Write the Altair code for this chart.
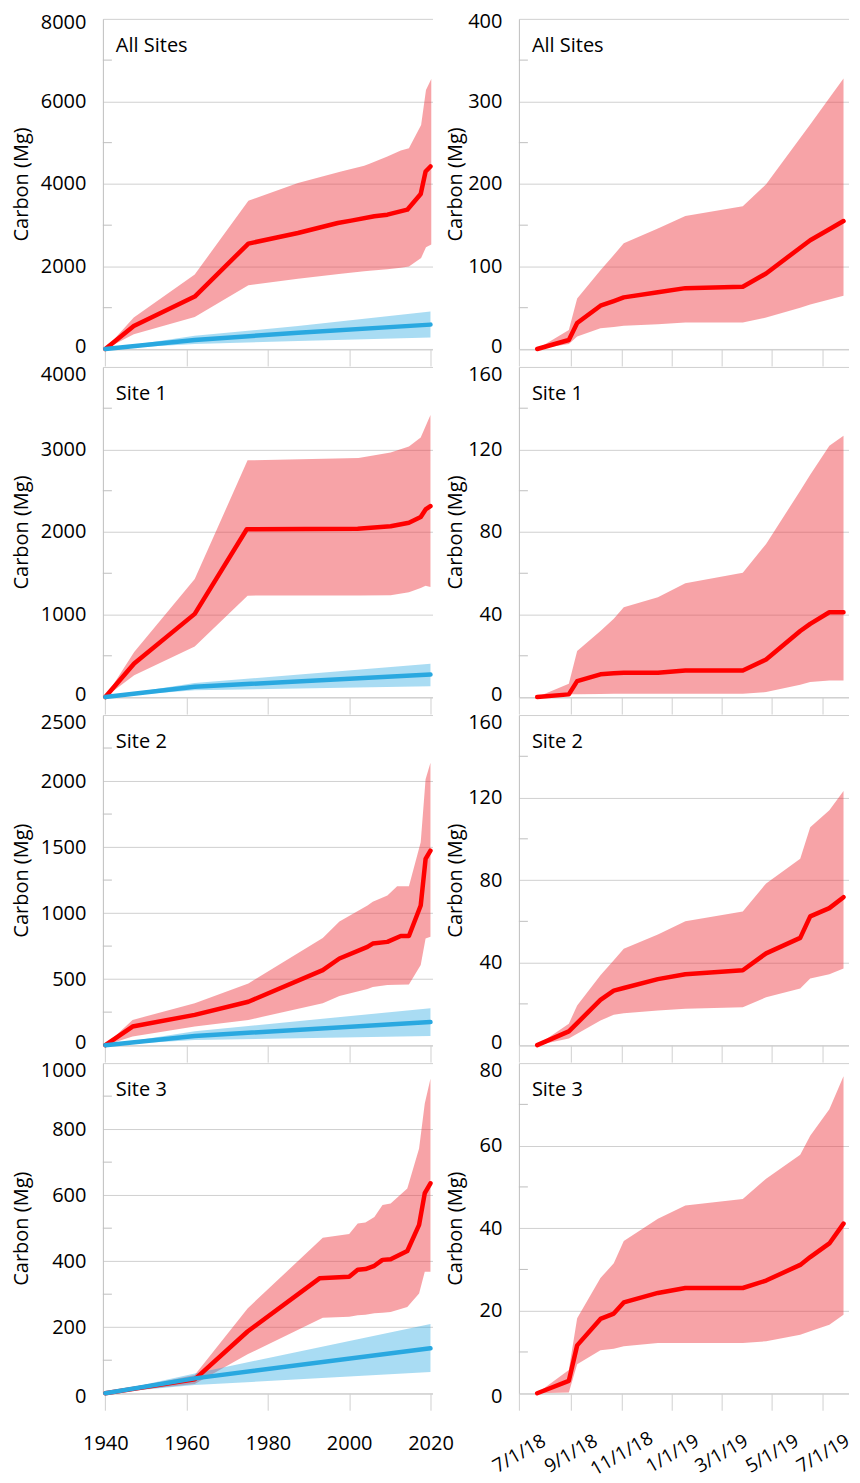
import altair as alt
import pandas as pd

# ---------------- Left column (years) ----------------
YEAR_TICKS = [1940, 1960, 1980, 2000, 2020]

# All Sites
AS_RED_X = [1940, 1947, 1962, 1975.2, 1987.4, 1997.2, 2000.5, 2006.2, 2009.4, 2014.3, 2017.6, 2018.8, 2020]
AS_RED = [0, 556, 1270, 2554, 2811, 3053, 3110, 3215, 3255, 3376, 3754, 4302, 4423]
AS_BAND_X = [1940, 1947, 1962, 1975.2, 1987.4, 1998, 2003.7, 2005, 2009.4, 2012.7, 2014.7, 2017.7, 2018.9, 2020.2]
AS_RED_HI = [0, 760, 1805, 3594, 4020, 4302, 4440, 4488, 4665, 4810, 4866, 5430, 6276, 6543]
AS_RED_LO = [0, 355, 773, 1547, 1700, 1820, 1885, 1895, 1930, 1970, 2000, 2207, 2465, 2530]
AS_BLUE_X = [1940, 1962, 1987.4, 2020]
AS_BLUE = [0, 215, 395, 590]
AS_BLUE_HI = [0, 320, 556, 905]
AS_BLUE_LO = [0, 120, 195, 280]

# Site 1
S1_RED_X = [1940, 1947.1, 1962, 1974.8, 2002.1, 2010.2, 2014.7, 2017.6, 2018.8, 2020]
S1_RED = [0, 406, 1008, 2033, 2040, 2069, 2113, 2181, 2273, 2314]
S1_BAND_X = [1940, 1947.1, 1962, 1975, 2002.3, 2010.2, 2014.7, 2017.6, 2018.8, 2020]
S1_RED_HI = [0, 546, 1430, 2868, 2896, 2964, 3037, 3145, 3280, 3419]
S1_RED_LO = [0, 265, 614, 1229, 1232, 1234, 1269, 1322, 1350, 1335]
S1_BLUE_X = [1940, 1962, 2020]
S1_BLUE = [0, 125, 272]
S1_BLUE_HI = [0, 170, 405]
S1_BLUE_LO = [0, 82, 130]

# Site 2
S2_RED_X = [1940, 1946.7, 1962, 1975.2, 1993.5, 1997.6, 2004.5, 2005.8, 2009.4, 2012.7, 2014.7, 2017.6, 2018.8, 2020]
S2_RED = [0, 141, 229, 329, 568, 656, 744, 769, 782, 827, 827, 1058, 1410, 1473]
S2_BAND_X = [1940, 1946.7, 1962, 1975.2, 1993.5, 1997.6, 2004.5, 2005.8, 2009.4, 2011.8, 2014.7, 2017.6, 2018.8, 2020]
S2_RED_HI = [0, 191, 317, 467, 812, 937, 1058, 1086, 1133, 1204, 1204, 1536, 2013, 2139]
S2_RED_LO = [0, 65, 141, 191, 317, 372, 425, 440, 455, 458, 460, 606, 807, 820]
S2_BLUE_X = [1940, 1962, 2020]
S2_BLUE = [0, 70, 175]
S2_BLUE_HI = [0, 105, 280]
S2_BLUE_LO = [0, 38, 70]

# Site 3
S3_RED_X = [1940, 1962, 1975, 1992.7, 2000, 2002.1, 2004, 2006.2, 2008.2, 2010.2, 2014.3, 2017.2, 2018.6, 2020]
S3_RED = [0, 42, 187, 348, 353, 374, 376, 386, 404, 406, 431, 510, 606, 636]
S3_BAND_X = [1940, 1962, 1975, 1993.5, 2000, 2002.1, 2004, 2006.2, 2008.2, 2010.2, 2014.3, 2017.2, 2018.6, 2020]
S3_RED_HI = [0, 55, 257, 471, 482, 514, 517, 534, 570, 575, 620, 741, 878, 953]
S3_RED_LO = [0, 28, 118, 229, 232, 236, 238, 242, 244, 246, 261, 302, 368, 368]
S3_BLUE_X = [1940, 1962, 2020]
S3_BLUE = [0, 45, 136]
S3_BLUE_HI = [0, 60, 210]
S3_BLUE_LO = [0, 25, 64]

# ---------------- Right column (dates) ----------------
R_DATES = ["2018-07-23", "2018-08-30", "2018-09-09", "2018-10-07", "2018-10-23", "2018-11-04",
           "2018-12-15", "2019-01-17", "2019-03-27", "2019-04-24", "2019-06-04", "2019-06-16",
           "2019-07-09", "2019-07-26"]
ASR_MED = [0, 10.9, 31.4, 52.4, 58, 62.5, 68.7, 73.7, 75.4, 91.5, 122.7, 131.8, 145, 155]
ASR_HI = [0, 23, 61, 95.5, 114, 128, 146, 161, 173, 199.5, 255.6, 272, 304, 327.6]
ASR_LO = [0, 6, 15, 25, 26.5, 28, 30, 32, 32, 38, 50, 54, 60, 64.5]
S1R_MED = [0, 1.3, 7.7, 11, 11.5, 11.8, 11.8, 12.9, 12.9, 18.2, 32, 35.5, 41.1, 41.1]
S1R_HI = [0, 6.5, 22.3, 32, 37.9, 43.5, 48.4, 55.2, 60.2, 74.2, 100, 107.8, 121.8, 126.6]
S1R_LO = [0, 1.3, 1.3, 1.5, 1.6, 1.6, 1.6, 1.6, 1.6, 2.4, 6, 7.3, 8, 8]
S2R_MED = [0, 6.7, 10.7, 21.9, 26.4, 27.7, 32, 34.4, 36.3, 44.5, 52, 62.4, 66.4, 71.7]
S2R_HI = [0, 10.4, 19.2, 33.9, 41.2, 46.7, 53.6, 60, 64.8, 78.4, 90.4, 105.6, 113.9, 123.2]
S2R_LO = [0, 3.2, 5.5, 12, 14.7, 15.5, 16.8, 17.6, 18.4, 23.2, 27.5, 32.3, 34.4, 37.1]
S3R_MED = [0, 3, 11.6, 18, 19.3, 22, 24.3, 25.5, 25.5, 27.3, 31.1, 33, 36.3, 41.1]
S3R_HI = [0, 5.6, 18.2, 27.9, 31.5, 36.9, 42.3, 45.5, 47.1, 52, 57.8, 62.4, 68.8, 76.8]
S3R_LO = [0, 0.2, 7, 10.4, 10.8, 11.4, 12.2, 12.2, 12.2, 12.6, 14.2, 15, 16.6, 19]

DATE_TICKS = [(2018, 7), (2018, 9), (2018, 11), (2019, 1), (2019, 3), (2019, 5), (2019, 7)]

# ---------------- style ----------------
FONT = "Open Sans"
RED = "#FF0000"
RED_BAND = "#EE3B45"
BLUE = "#29A8E0"
GRID = "#D0D0D0"
AXIS_C = "#BFBFBF"
W, H = 330, 330.5


def local(d):
    return d + "T00:00:00"


XAX = dict(title=None, grid=False, domain=True, domainColor=GRID, domainWidth=1,
           ticks=True, tickSize=17, tickColor=GRID, tickWidth=1,
           labelFont=FONT, labelColor="black",
           labelBaseline="middle", labelFlush=False, labelOverlap=False)
YAX = dict(title="Carbon (Mg)", titleFont=FONT, titleFontSize=20, titleFontWeight="normal",
           titleColor="black", titleAngle=270, titleBaseline="bottom", titleAlign="center",
           grid=True, gridColor=GRID, gridWidth=1, domain=True, domainColor=AXIS_C, domainWidth=1,
           ticks=False, tickSize=0, labelPadding=17, labelFont=FONT, labelFontSize=20,
           labelColor="black", labelFlush=False, labelOverlap=False, labelBaseline="middle",
           format="d")


def panel(row, label, kind, ymax, major, minor,
          red_x, red_y, band_x, band_hi, band_lo,
          blue_x=None, blue_y=None, blue_hi=None, blue_lo=None):
    bottom = row == 3
    if kind == "year":
        xtype = "quantitative"
        xscale = alt.Scale(domain=[1939.4, 2020.5], nice=False, zero=False)
        xaxis = alt.Axis(values=YEAR_TICKS, format="d", labels=bottom, labelPadding=33,
                         labelFontSize=20, labelAngle=0, labelAlign="center", **XAX)
        tx = -71
        conv = lambda v: v
        first_off = 3.5
    else:
        xtype = "temporal"
        xscale = alt.Scale(domain=[alt.DateTime(year=2018, month=7, date=1),
                                   alt.DateTime(year=2019, month=8, date=1)], nice=False)
        xaxis = alt.Axis(values=[alt.DateTime(year=y, month=m, date=1) for y, m in DATE_TICKS],
                         format="%-m/%-d/%y", formatType="time", labels=bottom, labelPadding=43,
                         labelFontSize=19, labelAngle=330, labelAlign="center", **XAX)
        tx = -53
        conv = local
        first_off = 2.5
    top_off = first_off if row == 0 else 7.5
    zero_off = 3 if row == 3 else -2.5
    label_offset = {"condition": [{"test": f"datum.value == {ymax}", "value": top_off},
                                  {"test": "datum.value == 0", "value": zero_off}],
                    "value": 0}
    yscale = alt.Scale(domain=[0, ymax], nice=False, zero=True)
    yaxis = alt.Axis(values=major, titleX=tx, titleY=H / 2, labelOffset=label_offset, **YAX)

    def X(f):
        return alt.X(field=f, type=xtype, scale=xscale, axis=xaxis)

    def Y(f):
        return alt.Y(field=f, type="quantitative", scale=yscale, axis=yaxis)

    band_df = pd.DataFrame({"x": [conv(v) for v in band_x], "hi": band_hi, "lo": band_lo})
    red_df = pd.DataFrame({"x": [conv(v) for v in red_x], "v": red_y})
    layers = [alt.Chart(band_df).mark_area(color=RED_BAND, opacity=0.47).encode(
        x=X("x"), y=Y("hi"), y2=alt.Y2("lo"))]
    if blue_x is not None:
        bb_df = pd.DataFrame({"x": blue_x, "hi": blue_hi, "lo": blue_lo})
        layers.append(alt.Chart(bb_df).mark_area(color=BLUE, opacity=0.4).encode(
            x=X("x"), y=Y("hi"), y2=alt.Y2("lo")))
    layers.append(alt.Chart(red_df).mark_line(color=RED, strokeWidth=4.5, strokeCap="round",
                                              strokeJoin="round").encode(x=X("x"), y=Y("v")))
    if blue_x is not None:
        bl_df = pd.DataFrame({"x": blue_x, "v": blue_y})
        layers.append(alt.Chart(bl_df).mark_line(color=BLUE, strokeWidth=4.5, strokeCap="round",
                                                 strokeJoin="round").encode(x=X("x"), y=Y("v")))
    minor_df = pd.DataFrame({"v": minor})
    layers.append(alt.Chart(minor_df).mark_rule(color=AXIS_C, strokeWidth=1).encode(
        y=Y("v"), x=alt.value(0), x2=alt.value(9)))
    lab_df = pd.DataFrame({"t": [label]})
    layers.append(alt.Chart(lab_df).mark_text(align="left", baseline="alphabetic", font=FONT,
                                              fontSize=20, color="black").encode(
        x=alt.value(13), y=alt.value(33), text="t:N"))
    return alt.layer(*layers).properties(width=W, height=H)


panels = [
    panel(0, "All Sites", "year", 8000, [0, 2000, 4000, 6000, 8000], [1000, 3000, 5000, 7000],
          AS_RED_X, AS_RED, AS_BAND_X, AS_RED_HI, AS_RED_LO, AS_BLUE_X, AS_BLUE, AS_BLUE_HI, AS_BLUE_LO),
    panel(0, "All Sites", "date", 400, [0, 100, 200, 300, 400], [50, 150, 250, 350],
          R_DATES, ASR_MED, R_DATES, ASR_HI, ASR_LO),
    panel(1, "Site 1", "year", 4000, [0, 1000, 2000, 3000, 4000], [500, 1500, 2500, 3500],
          S1_RED_X, S1_RED, S1_BAND_X, S1_RED_HI, S1_RED_LO, S1_BLUE_X, S1_BLUE, S1_BLUE_HI, S1_BLUE_LO),
    panel(1, "Site 1", "date", 160, [0, 40, 80, 120, 160], [20, 60, 100, 140],
          R_DATES, S1R_MED, R_DATES, S1R_HI, S1R_LO),
    panel(2, "Site 2", "year", 2500, [0, 500, 1000, 1500, 2000, 2500], [250, 750, 1250, 1750, 2250],
          S2_RED_X, S2_RED, S2_BAND_X, S2_RED_HI, S2_RED_LO, S2_BLUE_X, S2_BLUE, S2_BLUE_HI, S2_BLUE_LO),
    panel(2, "Site 2", "date", 160, [0, 40, 80, 120, 160], [20, 60, 100, 140],
          R_DATES, S2R_MED, R_DATES, S2R_HI, S2R_LO),
    panel(3, "Site 3", "year", 1000, [0, 200, 400, 600, 800, 1000], [100, 300, 500, 700, 900],
          S3_RED_X, S3_RED, S3_BAND_X, S3_RED_HI, S3_RED_LO, S3_BLUE_X, S3_BLUE, S3_BLUE_HI, S3_BLUE_LO),
    panel(3, "Site 3", "date", 80, [0, 20, 40, 60, 80], [10, 30, 50, 70],
          R_DATES, S3R_MED, R_DATES, S3R_HI, S3R_LO),
]

chart = alt.concat(*panels, columns=2, spacing={"row": 17.5, "column": 86.5}, bounds="flush").properties(
    padding={"left": 4, "top": 2, "right": -1, "bottom": -3}
).configure_view(stroke=None)

chart.save("out.html", embed_options={"renderer": "svg", "actions": False})
